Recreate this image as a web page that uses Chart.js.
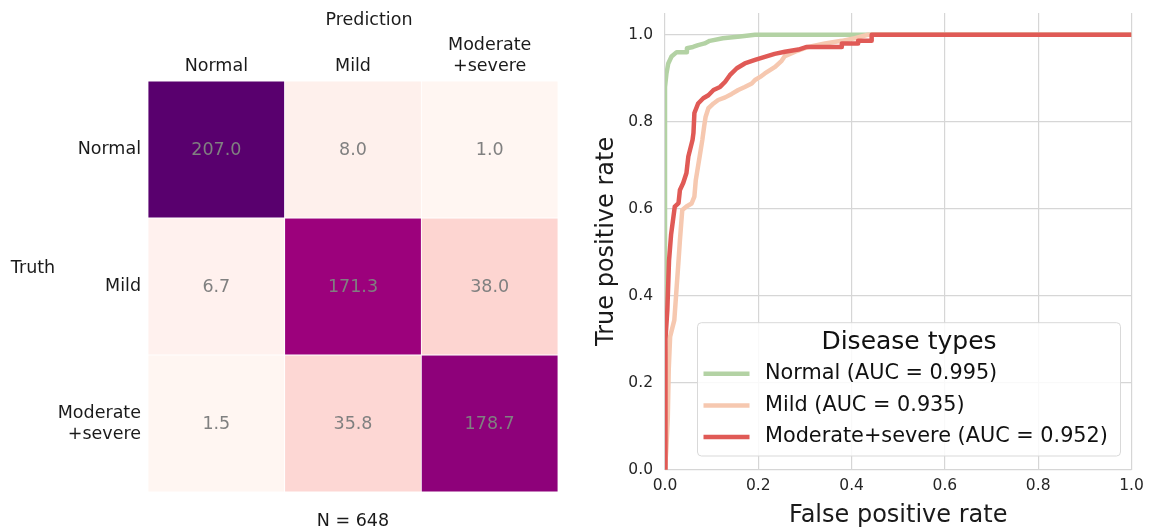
<!DOCTYPE html>
<html>
<head>
<meta charset="utf-8">
<title>Confusion matrix and ROC curves</title>
<script src="https://cdn.jsdelivr.net/npm/chart.js@4.4.0/dist/chart.umd.min.js"></script>
<style>
  html, body { margin: 0; padding: 0; background: #ffffff; }
  #wrap { position: relative; width: 1159px; height: 532px; }
  #cmBox { position: absolute; left: 0; top: 0; width: 590px; height: 532px; }
  #rocBox { position: absolute; left: 590px; top: 0; width: 569px; height: 532px; }
</style>
</head>
<body>
<div id="wrap">
  <div id="cmBox"><canvas id="cm"></canvas></div>
  <div id="rocBox"><canvas id="roc"></canvas></div>
</div>
<script>
// ---- Confusion matrix: rows = truth, columns = prediction ----
const predLabels = ['Normal', 'Mild', ['Moderate', '+severe']];
const truthLabels = ['Normal', 'Mild', ['Moderate', '+severe']];
const rowNormal = [207.0, 8.0, 1.0];
const rowMild = [6.7, 171.3, 38.0];
const rowModerate = [1.5, 35.8, 178.7];
const sampleCount = 648;

// ---- ROC curves (false positive rate / true positive rate) ----
const classNames = ['Normal', 'Mild', 'Moderate+severe'];
const aucValues = [0.995, 0.935, 0.952];

const normalFpr = [0, 0, 0.003, 0.007, 0.014, 0.025, 0.047, 0.047, 0.06, 0.071, 0.085, 0.096, 0.124, 0.161, 0.193, 1.0];
const normalTpr = [0, 0.88, 0.91, 0.934, 0.95, 0.96, 0.96, 0.969, 0.972, 0.976, 0.98, 0.986, 0.992, 0.996, 1.0, 1.0];

const mildFpr = [0, 0.003, 0.006, 0.008, 0.011, 0.02, 0.025, 0.029, 0.032, 0.037, 0.046, 0.057, 0.063, 0.066, 0.073,
  0.08, 0.084, 0.087, 0.093, 0.104, 0.114, 0.129, 0.143, 0.157, 0.171, 0.186, 0.193, 0.204, 0.214, 0.236,
  0.25, 0.257, 0.279, 0.307, 0.343, 0.379, 0.407, 0.435, 1.0];
const mildTpr = [0, 0.05, 0.12, 0.23, 0.306, 0.344, 0.42, 0.48, 0.528, 0.597, 0.605, 0.612, 0.628, 0.666, 0.712,
  0.758, 0.79, 0.811, 0.831, 0.842, 0.85, 0.856, 0.864, 0.873, 0.88, 0.888, 0.896, 0.903, 0.911, 0.926,
  0.94, 0.951, 0.961, 0.972, 0.98, 0.986, 0.992, 1.0, 1.0];

const moderateFpr = [0, 0, 0.002, 0.005, 0.0086, 0.013, 0.021, 0.029, 0.032, 0.039, 0.046, 0.05, 0.059, 0.061, 0.063,
  0.071, 0.082, 0.093, 0.104, 0.118, 0.129, 0.139, 0.154, 0.171, 0.193, 0.214, 0.235, 0.257, 0.286, 0.304,
  0.379, 0.379, 0.414, 0.414, 0.443, 0.443, 1.0];
const moderateTpr = [0, 0.28, 0.30, 0.367, 0.48, 0.54, 0.605, 0.613, 0.643, 0.659, 0.682, 0.72, 0.758, 0.774, 0.82,
  0.842, 0.854, 0.861, 0.873, 0.88, 0.892, 0.907, 0.923, 0.934, 0.942, 0.949, 0.956, 0.961, 0.966, 0.972,
  0.972, 0.98, 0.98, 0.986, 0.986, 1.0, 1.0];

const rateTicks = [0, 0.2, 0.4, 0.6, 0.8, 1.0];

// ---- shared style ----
const FONT = "'DejaVu Sans', 'Liberation Sans', Arial, sans-serif";
Chart.defaults.font.family = FONT;
Chart.defaults.animation = false;
Chart.defaults.events = [];
Chart.defaults.plugins.legend.display = false;
Chart.defaults.plugins.tooltip.enabled = false;

// RdPu sequential colour map
const RDPU = ['#fff7f3', '#fde0dd', '#fcc5c0', '#fa9fb5', '#f768a1', '#dd3497', '#ae017e', '#7a0177', '#49006a'];
function hexToRgb(h) {
  return [parseInt(h.slice(1, 3), 16), parseInt(h.slice(3, 5), 16), parseInt(h.slice(5, 7), 16)];
}
function rdpu(t) {
  t = Math.min(1, Math.max(0, t));
  const p = t * (RDPU.length - 1);
  const i = Math.min(Math.floor(p), RDPU.length - 2);
  const f = p - i;
  const a = hexToRgb(RDPU[i]), b = hexToRgb(RDPU[i + 1]);
  const c = a.map((v, k) => Math.round(v + (b[k] - v) * f));
  return `rgb(${c[0]},${c[1]},${c[2]})`;
}

// ================= Confusion matrix =================
const matrix = [rowNormal, rowMild, rowModerate];
const rowTotal = rowNormal.reduce((s, v) => s + v, 0); // every truth row holds the same count

const cmDatasets = matrix.map((row, r) => ({
  label: truthLabels[r],
  data: row.map(() => [r, r + 1]),
  values: row,
  backgroundColor: row.map(v => rdpu(v / rowTotal)),
  borderColor: '#ffffff',
  borderWidth: 0.75,
  borderSkipped: false,
  grouped: false,
  categoryPercentage: 1,
  barPercentage: 1
}));

const cellText = {
  id: 'cellText',
  afterDatasetsDraw(chart) {
    const ctx = chart.ctx;
    ctx.save();
    ctx.font = `17.5px ${FONT}`;
    ctx.fillStyle = '#808080';
    ctx.textAlign = 'center';
    ctx.textBaseline = 'middle';
    chart.data.datasets.forEach((ds, i) => {
      chart.getDatasetMeta(i).data.forEach((bar, j) => {
        const p = bar.getProps(['x', 'y', 'base'], true);
        ctx.fillText(ds.values[j].toFixed(1), p.x, (p.y + p.base) / 2 + 1);
      });
    });
    ctx.restore();
  }
};

const cmCaptions = {
  id: 'cmCaptions',
  afterDraw(chart) {
    const a = chart.chartArea;
    const ctx = chart.ctx;
    ctx.save();
    ctx.font = `17.5px ${FONT}`;
    ctx.fillStyle = '#1a1a1a';
    ctx.textAlign = 'center';
    ctx.textBaseline = 'middle';
    const cx = (a.left + a.right) / 2;
    const cy = (a.top + a.bottom) / 2;
    ctx.fillText('Prediction', cx + 16, a.top - 61);
    ctx.fillText('Truth', 33, cy - 18);
    ctx.fillText('N = ' + sampleCount, cx, a.bottom + 29);
    ctx.restore();
  }
};

new Chart(document.getElementById('cm'), {
  type: 'bar',
  data: { labels: predLabels, datasets: cmDatasets },
  options: {
    responsive: true,
    maintainAspectRatio: false,
    layout: { padding: { left: 0, top: 0, right: 32, bottom: 40 } },
    scales: {
      x: {
        type: 'category',
        position: 'top',
        offset: true,
        grid: { display: false, drawTicks: false },
        border: { display: false },
        ticks: { color: '#1a1a1a', font: { size: 17.5 }, padding: 4.5, maxRotation: 0, autoSkip: false },
        afterFit(s) { s.height = 81; }
      },
      y: {
        type: 'linear',
        reverse: true,
        min: 0,
        max: truthLabels.length,
        grid: { display: false, drawTicks: false },
        border: { display: false },
        afterBuildTicks(s) { s.ticks = truthLabels.map((_, r) => ({ value: r + 0.5 })); },
        ticks: {
          color: '#1a1a1a',
          font: { size: 17.5 },
          padding: 7,
          autoSkip: false,
          callback: v => truthLabels[Math.round(v - 0.5)]
        },
        afterFit(s) { s.width = 148; }
      }
    }
  },
  plugins: [cellText, cmCaptions]
});

// ================= ROC curves =================
const rocSeries = [
  { fpr: normalFpr, tpr: normalTpr, color: '#b3d2a4', order: 2 },
  { fpr: mildFpr, tpr: mildTpr, color: '#f6c8b0', order: 1 },
  { fpr: moderateFpr, tpr: moderateTpr, color: '#e05a56', order: 0 }
];

const rocDatasets = rocSeries.map((s, i) => ({
  label: `${classNames[i]} (AUC = ${aucValues[i].toFixed(3)})`,
  data: s.fpr.map((x, k) => ({ x, y: s.tpr[k] })),
  borderColor: s.color,
  backgroundColor: s.color,
  borderWidth: 4.5,
  borderJoinStyle: 'round',
  pointRadius: 0,
  showLine: true,
  fill: false,
  tension: 0,
  order: s.order
}));

const rocLegend = {
  id: 'rocLegend',
  afterDatasetsDraw(chart) {
    const a = chart.chartArea;
    const ctx = chart.ctx;
    const box = { left: a.left + 32.5, right: a.right - 11, top: a.bottom - 147, bottom: a.bottom - 13.7 };
    ctx.save();
    ctx.beginPath();
    ctx.roundRect(box.left, box.top, box.right - box.left, box.bottom - box.top, 4);
    ctx.fillStyle = 'rgba(255,255,255,0.85)';
    ctx.fill();
    ctx.strokeStyle = '#d9d9d9';
    ctx.lineWidth = 1;
    ctx.stroke();

    ctx.fillStyle = '#111111';
    ctx.textBaseline = 'middle';
    ctx.textAlign = 'center';
    ctx.font = `25px ${FONT}`;
    ctx.fillText('Disease types', (box.left + box.right) / 2, box.top + 19.5);

    ctx.textAlign = 'left';
    ctx.font = `20.8px ${FONT}`;
    chart.data.datasets.forEach((ds, i) => {
      const y = box.top + 51 + i * 31.7;
      ctx.strokeStyle = ds.borderColor;
      ctx.lineWidth = 4.5;
      ctx.beginPath();
      ctx.moveTo(box.left + 6, y);
      ctx.lineTo(box.left + 52, y);
      ctx.stroke();
      ctx.fillStyle = '#111111';
      ctx.fillText(ds.label, box.left + 67.5, y);
    });
    ctx.restore();
  }
};

const gridStyle = { color: '#d6d6d6', lineWidth: 1.2, drawTicks: false };

new Chart(document.getElementById('roc'), {
  type: 'scatter',
  data: { datasets: rocDatasets },
  options: {
    responsive: true,
    maintainAspectRatio: false,
    layout: { padding: { left: 0, top: 13, right: 27.5, bottom: 0 } },
    scales: {
      x: {
        type: 'linear',
        min: 0,
        max: 1,
        afterBuildTicks(s) { s.ticks = rateTicks.map(v => ({ value: v })); },
        grid: gridStyle,
        border: { display: false },
        ticks: { callback: v => v.toFixed(1), font: { size: 15.5 }, color: '#262626', padding: 7 },
        title: { display: true, text: 'False positive rate', font: { size: 24 }, color: '#1a1a1a', padding: { top: 0, bottom: 1.5 } },
        afterFit(s) { s.height = 62.3; s.paddingLeft = 0; s.paddingRight = 0; }
      },
      y: {
        type: 'linear',
        min: 0,
        max: 1.05,
        afterBuildTicks(s) { s.ticks = rateTicks.map(v => ({ value: v })); },
        grid: gridStyle,
        border: { display: false },
        ticks: { callback: v => v.toFixed(1), font: { size: 15.5 }, color: '#262626', padding: 12 },
        title: { display: true, text: 'True positive rate', font: { size: 24 }, color: '#1a1a1a', padding: { top: 2, bottom: 0 } },
        afterFit(s) { s.width = 75; s.paddingTop = 0; s.paddingBottom = 0; }
      }
    }
  },
  plugins: [rocLegend]
});
</script>
</body>
</html>
